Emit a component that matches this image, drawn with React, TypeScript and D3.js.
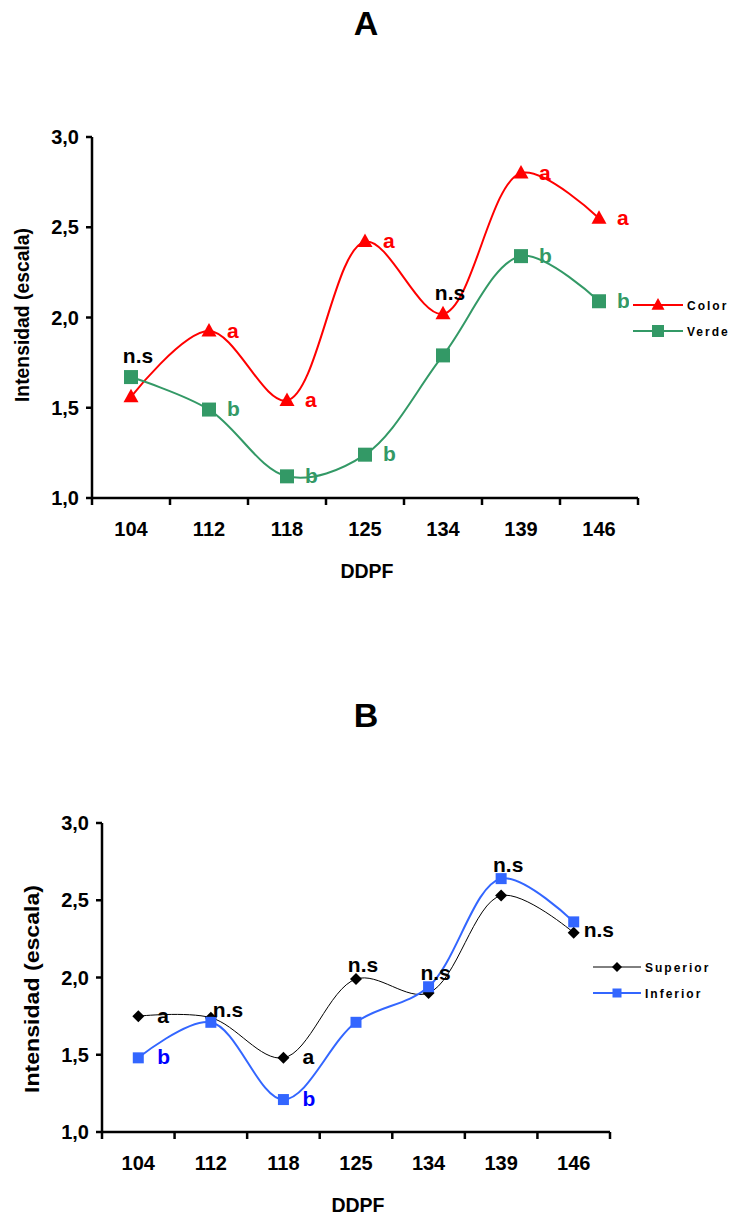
import React from "react";
import * as d3 from "d3";

const categories = ["104", "112", "118", "125", "134", "139", "146"];
const yTicks = [1.0, 1.5, 2.0, 2.5, 3.0];

// Chart A
const colorValues = [1.56, 1.925, 1.54, 2.42, 2.02, 2.8, 2.55];
const verdeValues = [1.67, 1.49, 1.12, 1.24, 1.79, 2.34, 2.09];
const colorLetters = ["", "a", "a", "a", "", "a", "a"];
const verdeLetters = ["", "b", "b", "b", "", "b", "b"];
const nsA = [
  { cat: "104", value: 1.67, side: "top" },
  { cat: "134", value: 2.02, side: "top" },
];

// Chart B
const superiorValues = [1.75, 1.74, 1.48, 1.99, 1.9, 2.53, 2.29];
const inferiorValues = [1.48, 1.71, 1.21, 1.71, 1.94, 2.64, 2.36];
const superiorLetters = ["a", "", "a", "", "", "", ""];
const inferiorLetters = ["b", "", "b", "", "", "", ""];
const nsB = [
  { cat: "112", value: 1.74, side: "upright" },
  { cat: "125", value: 1.99, side: "top" },
  { cat: "134", value: 1.94, side: "top" },
  { cat: "139", value: 2.64, side: "top" },
  { cat: "146", value: 2.29, side: "right" },
];

const FONT = "'Liberation Sans', Arial, sans-serif";

type Marker = "triangle" | "square" | "diamond";

function MarkerShape({ type, x, y, size, color }: { type: Marker; x: number; y: number; size: number; color: string }) {
  if (type === "triangle") {
    const h = size * 0.9;
    return <path d={`M${x},${y - h * 0.6} L${x + size / 2},${y + h * 0.4} L${x - size / 2},${y + h * 0.4} Z`} fill={color} />;
  }
  if (type === "square") {
    return <rect x={x - size / 2} y={y - size / 2} width={size} height={size} fill={color} />;
  }
  const r = size / 2;
  return <path d={`M${x},${y - r} L${x + r},${y} L${x},${y + r} L${x - r},${y} Z`} fill={color} />;
}

interface SeriesDef {
  name: string;
  values: number[];
  letters: string[];
  color: string;
  letterColor: string;
  marker: Marker;
  markerSize: number;
  lineWidth: number;
}

interface ChartProps {
  top: number;
  title: string;
  x0: number;
  x1: number;
  yTop: number;
  yBottom: number;
  series: SeriesDef[];
  ns: { cat: string; value: number; side?: string }[];
  nsTopDy: number;
  legendX: number;
  legendY: number;
  legendLen: number;
  letterDx: number;
  yLabelLen: number;
  yLabelCenter: number;
}

function Chart(p: ChartProps) {
  const x = d3.scaleBand().domain(categories).range([p.x0, p.x1]);
  const y = d3.scaleLinear().domain([1, 3]).range([p.yBottom, p.yTop]);
  const cx = (c: string) => (x(c) as number) + x.bandwidth() / 2;
  const line = d3
    .line<number>()
    .x((_, i) => cx(categories[i]))
    .y((v) => y(v))
    .curve(d3.curveCatmullRom.alpha(0.5));
  const boundaries = d3.range(categories.length + 1).map((i) => p.x0 + i * x.bandwidth());
  return (
    <g>
      <text x={366} y={p.top} textAnchor="middle" fontFamily={FONT} fontWeight="bold" fontSize={34}>
        {p.title}
      </text>
      {/* axes */}
      <line x1={p.x0} x2={p.x0} y1={p.yTop} y2={p.yBottom} stroke="#000" strokeWidth={2.5} />
      <line x1={p.x0} x2={p.x1} y1={p.yBottom} y2={p.yBottom} stroke="#000" strokeWidth={2.5} />
      {yTicks.map((t) => (
        <g key={t}>
          <line x1={p.x0 - 6} x2={p.x0} y1={y(t)} y2={y(t)} stroke="#000" strokeWidth={2.5} />
          <text x={p.x0 - 13} y={y(t) + 7} textAnchor="end" fontFamily={FONT} fontWeight="bold" fontSize={20}>
            {d3.format(".1f")(t).replace(".", ",")}
          </text>
        </g>
      ))}
      {boundaries.map((b, i) => (
        <line key={i} x1={b} x2={b} y1={p.yBottom} y2={p.yBottom + 7} stroke="#000" strokeWidth={2.5} />
      ))}
      {categories.map((c) => (
        <text key={c} x={cx(c)} y={p.yBottom + 38} textAnchor="middle" fontFamily={FONT} fontWeight="bold" fontSize={20}>
          {c}
        </text>
      ))}
      <text x={(p.x0 + p.x1) / 2 + 2} y={p.yBottom + 80} textAnchor="middle" fontFamily={FONT} fontWeight="bold" fontSize={19.5}>
        DDPF
      </text>
      <text
        transform={`translate(${p.x0 - 63},${p.yLabelCenter}) rotate(-90)`}
        textAnchor="middle"
        fontFamily={FONT}
        fontWeight="bold"
        fontSize={20}
        textLength={p.yLabelLen}
        lengthAdjust="spacingAndGlyphs"
      >
        Intensidad (escala)
      </text>
      {/* series */}
      {p.series.map((s) => (
        <g key={s.name}>
          <path d={line(s.values) || ""} fill="none" stroke={s.color} strokeWidth={s.lineWidth} />
          {s.values.map((v, i) => (
            <MarkerShape key={i} type={s.marker} x={cx(categories[i])} y={y(v)} size={s.markerSize} color={s.color} />
          ))}
          {s.letters.map((l, i) =>
            l ? (
              <text
                key={i}
                x={cx(categories[i]) + p.letterDx}
                y={y(s.values[i]) + 6.5}
                fontFamily={FONT}
                fontWeight="bold"
                fontSize={21}
                fill={s.letterColor}
              >
                {l}
              </text>
            ) : null
          )}
        </g>
      ))}
      {p.ns.map((n, i) => {
        if (n.side === "right")
          return (
            <text key={i} x={cx(n.cat) + 10} y={y(n.value) + 4} fontFamily={FONT} fontWeight="bold" fontSize={21}>
              n.s
            </text>
          );
        if (n.side === "upright")
          return (
            <text key={i} x={cx(n.cat) + 2} y={y(n.value) - 1} fontFamily={FONT} fontWeight="bold" fontSize={21}>
              n.s
            </text>
          );
        return (
          <text key={i} x={cx(n.cat) + 7} y={y(n.value) + p.nsTopDy} textAnchor="middle" fontFamily={FONT} fontWeight="bold" fontSize={21}>
            n.s
          </text>
        );
      })}
      {/* legend */}
      <rect x={p.legendX - 4} y={p.legendY - 14} width={110} height={44} fill="#fff" />
      {p.series.map((s, i) => {
        const ly = p.legendY + i * 26;
        return (
          <g key={s.name}>
            <line x1={p.legendX} x2={p.legendX + p.legendLen} y1={ly} y2={ly} stroke={s.color} strokeWidth={s.lineWidth} />
            <MarkerShape type={s.marker} x={p.legendX + p.legendLen / 2} y={ly} size={s.markerSize - 2} color={s.color} />
            <text x={p.legendX + p.legendLen + 4} y={ly + 4.5} fontFamily={FONT} fontWeight="bold" fontSize={12} letterSpacing={2}>
              {s.name}
            </text>
          </g>
        );
      })}
    </g>
  );
}

export default function App() {
  return (
    <svg
      width={734}
      height={1216}
      viewBox="0 0 734 1216"
      style={{ position: "absolute", left: 0, top: 0, display: "block", background: "#fff" }}
    >
      <rect x={0} y={0} width={734} height={1216} fill="#fff" />
      <Chart
        top={35}
        title="A"
        x0={92}
        x1={638}
        yTop={137}
        yBottom={498}
        letterDx={18}
        nsTopDy={-14}
        yLabelLen={174}
        yLabelCenter={315}
        series={[
          { name: "Color", values: colorValues, letters: colorLetters, color: "#FF0000", letterColor: "#FF0000", marker: "triangle", markerSize: 15, lineWidth: 2 },
          { name: "Verde", values: verdeValues, letters: verdeLetters, color: "#339966", letterColor: "#339966", marker: "square", markerSize: 14, lineWidth: 2 },
        ]}
        ns={nsA}
        legendX={633}
        legendY={305}
        legendLen={50}
      />
      <Chart
        top={727}
        title="B"
        x0={102}
        x1={610}
        yTop={823}
        yBottom={1132}
        letterDx={19}
        nsTopDy={-7}
        yLabelLen={208}
        yLabelCenter={989}
        series={[
          { name: "Superior", values: superiorValues, letters: superiorLetters, color: "#000000", letterColor: "#000000", marker: "diamond", markerSize: 12, lineWidth: 1 },
          { name: "Inferior", values: inferiorValues, letters: inferiorLetters, color: "#3366FF", letterColor: "#0000FF", marker: "square", markerSize: 11, lineWidth: 2 },
        ]}
        ns={nsB}
        legendX={593}
        legendY={967}
        legendLen={48}
      />
    </svg>
  );
}
